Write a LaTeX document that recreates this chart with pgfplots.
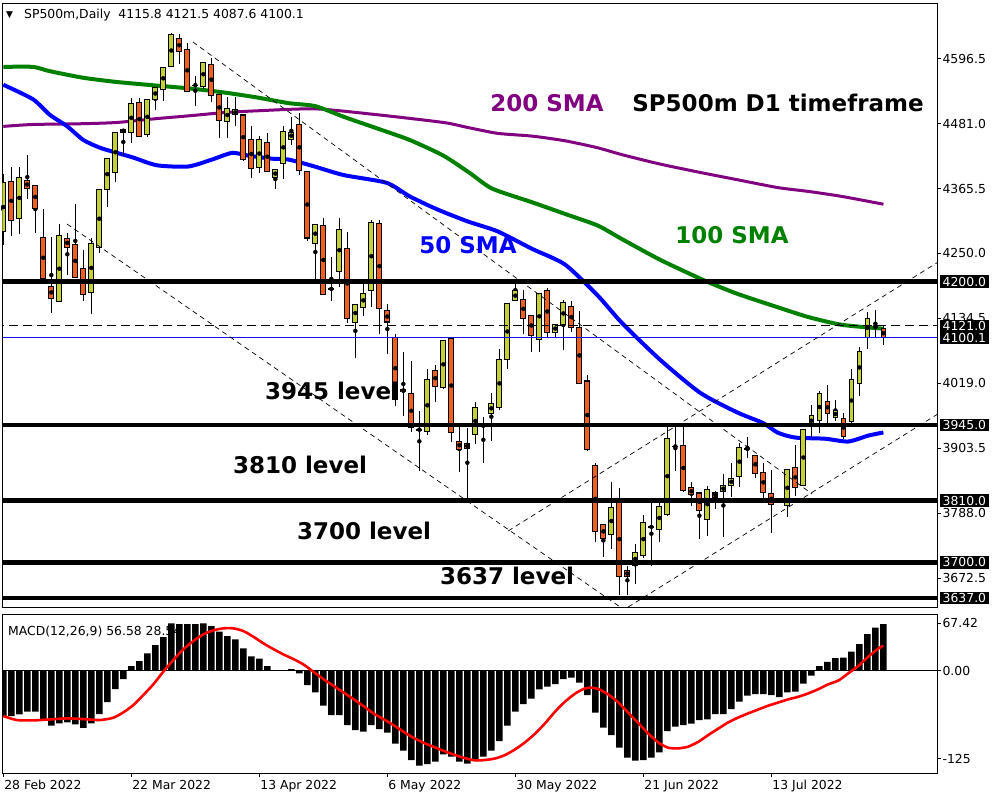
\documentclass[border=0pt]{standalone}
\usepackage{pgfplots}
\pgfplotsset{compat=1.18}
\usepackage{pgfplotstable}
\usepackage{fontspec}
\setmainfont{DejaVu Sans}
\definecolor{bull}{RGB}{196,208,56}
\definecolor{bear}{RGB}{240,96,32}
\definecolor{magreen}{RGB}{0,128,0}
\definecolor{mablue}{RGB}{0,0,255}
\definecolor{mapurple}{RGB}{128,0,128}
\definecolor{pricelinecol}{RGB}{20,20,230}
\newcommand{\smallfnt}{\fontsize{12.4}{14}\selectfont}
\newcommand{\bigfnt}{\fontsize{23}{26}\selectfont\bfseries}
\begin{document}
\pgfplotstableread{
k o h l c
0 4289.2 4391.7 4265.0 4375.7
1 4378.5 4403.4 4280.9 4308.6
2 4312.8 4403.4 4283.7 4384.7
3 4379.9 4425.6 4346.0 4365.4
4 4370.9 4372.0 4285.8 4330.1
5 4278.9 4329.4 4204.5 4205.5
6 4191.7 4279.6 4143.2 4169.5
7 4164.7 4301.7 4163.5 4280.9
8 4276.8 4285.8 4211.0 4260.9
9 4266.4 4338.4 4206.0 4206.9
10 4223.5 4255.3 4166.1 4177.1
11 4180.6 4277.5 4141.8 4267.8
12 4260.2 4364.0 4251.2 4363.3
13 4364.0 4419.0 4332.2 4418.0
14 4394.4 4466.5 4377.1 4465.7
15 4470.6 4471.0 4425.6 4465.7
16 4465.7 4526.6 4446.3 4516.9
17 4519.0 4526.6 4457.0 4458.8
18 4461.6 4525.0 4457.0 4524.5
19 4524.5 4545.0 4505.2 4544.6
20 4541.8 4582.0 4521.1 4581.3
21 4582.0 4642.9 4581.0 4640.1
22 4631.8 4640.8 4586.8 4609.0
23 4613.1 4624.9 4538.0 4538.4
24 4549.4 4566.0 4512.8 4549.4
25 4547.4 4590.5 4543.2 4590.3
26 4586.8 4598.6 4519.7 4531.5
27 4532.9 4533.0 4455.3 4486.5
28 4485.1 4528.0 4455.3 4507.2
29 4496.8 4528.0 4477.5 4505.2
30 4496.2 4497.0 4413.8 4417.3
31 4451.9 4477.5 4384.7 4402.0
32 4403.4 4458.8 4392.3 4451.9
33 4447.7 4463.6 4396.0 4396.5
34 4385.4 4399.0 4365.4 4398.6
35 4410.3 4477.5 4382.7 4467.1
36 4453.3 4493.4 4442.9 4465.7
37 4479.5 4500.3 4389.6 4397.9
38 4396.5 4397.0 4272.0 4277.5
39 4268.5 4302.0 4202.7 4301.7
40 4299.6 4312.1 4176.5 4177.1
41 4186.8 4244.3 4164.7 4186.8
42 4218.6 4313.5 4191.0 4292.7
43 4258.1 4287.8 4126.6 4134.9
44 4128.0 4160.0 4064.3 4159.8
45 4154.3 4197.9 4139.1 4178.5
46 4184.7 4309.3 4154.3 4305.2
47 4302.4 4309.3 4107.2 4152.2
48 4147.4 4159.8 4071.2 4128.0
49 4101.0 4107.2 3977.8 3990.3
50 4007.6 4074.7 3960.5 4004.1
51 4000.0 4058.8 3932.9 3939.8
52 3936.3 3968.8 3862.2 3936.3
53 3932.9 4044.9 3927.3 4026.3
54 4042.2 4050.5 3984.7 4013.8
55 4011.0 4095.0 4009.0 4094.1
56 4098.9 4099.5 3914.4 3930.8
57 3915.5 3943.2 3860.2 3901.7
58 3911.4 3939.8 3815.2 3903.1
59 3927.3 3984.7 3910.2 3976.4
60 3943.2 3959.1 3877.5 3943.2
61 3965.3 4002.0 3916.9 3983.3
62 3976.4 4079.5 3970.9 4060.9
63 4060.9 4161.5 4044.9 4161.2
64 4166.1 4204.1 4165.5 4183.4
65 4168.1 4185.4 4107.2 4134.9
66 4139.1 4139.5 4074.7 4104.4
67 4097.5 4179.0 4074.7 4178.5
68 4184.0 4188.9 4100.3 4109.3
69 4109.3 4124.0 4100.3 4123.1
70 4123.1 4166.8 4078.2 4163.3
71 4155.7 4164.7 4109.3 4117.6
72 4117.6 4147.4 4018.5 4019.3
73 4022.8 4033.2 3899.0 3901.7
74 3872.0 3876.1 3737.0 3754.4
75 3768.1 3768.5 3710.0 3742.5
76 3749.4 3842.9 3723.2 3797.9
77 3808.2 3832.5 3642.2 3674.7
78 3685.1 3694.1 3642.2 3675.4
79 3694.1 3732.1 3660.8 3718.3
80 3712.8 3784.0 3707.9 3770.2
81 3763.3 3808.2 3694.1 3763.3
82 3758.4 3808.2 3735.6 3799.9
83 3786.1 3943.2 3782.6 3921.0
84 3906.5 3943.2 3863.6 3906.5
85 3908.6 3943.2 3825.5 3827.7
86 3832.5 3842.9 3801.3 3820.7
87 3823.5 3824.0 3742.5 3792.3
88 3777.1 3835.9 3747.4 3830.4
89 3823.5 3827.7 3794.4 3816.5
90 3825.5 3858.1 3744.6 3837.3
91 3837.3 3876.1 3816.5 3849.8
92 3853.8 3913.1 3833.7 3904.9
93 3901.9 3922.7 3885.3 3901.9
94 3890.7 3891.5 3849.7 3858.6
95 3860.4 3877.5 3805.2 3824.8
96 3823.0 3864.5 3751.8 3803.5
97 3811.5 3813.0 3807.0 3809.5
98 3801.0 3865.0 3781.4 3864.5
99 3869.3 3909.0 3818.2 3833.7
100 3836.6 3937.5 3836.0 3936.9
101 3942.8 3980.2 3923.8 3961.8
102 3952.2 4005.0 3929.8 4001.0
103 3986.8 4015.9 3941.6 3965.4
104 3958.3 3989.6 3951.5 3970.1
105 3955.7 3966.0 3920.4 3924.5
106 3950.1 4044.9 3941.1 4026.3
107 4019.3 4083.0 3996.5 4074.7
108 4100.3 4146.0 4080.3 4134.9
109 4118.5 4149.5 4100.3 4120.5
110 4115.8 4121.5 4087.6 4100.1
}\candles
\pgfplotstableread{
k m
0 -64.5
1 -64.5
2 -62.1
3 -58.3
4 -58.3
5 -69.3
6 -78.3
7 -75.0
8 -73.6
9 -76.4
10 -81.2
11 -75.0
12 -61.7
13 -44.6
14 -26.1
15 -11.9
16 6.6
17 13.8
18 24.7
19 36.5
20 47.9
21 67.4
22 66.4
23 66.4
24 66.4
25 67.4
26 63.5
27 55.5
28 49.3
29 44.6
30 31.8
31 20.4
32 17.1
33 6.6
34 0.5
35 0.2
36 2.4
37 -3.8
38 -20.4
39 -30.8
40 -49.8
41 -63.1
42 -63.1
43 -77.3
44 -84.4
45 -86.8
46 -77.3
47 -83.0
48 -88.2
49 -103.8
50 -113.8
51 -127.1
52 -135.2
53 -132.8
54 -129.5
55 -119.1
56 -122.4
57 -129.5
58 -132.4
59 -127.1
60 -122.4
61 -113.9
62 -100.1
63 -78.3
64 -58.3
65 -47.4
66 -39.8
67 -26.6
68 -22.8
69 -19.0
70 -11.9
71 -10.0
72 -17.1
73 -34.6
74 -59.8
75 -81.1
76 -91.6
77 -109.6
78 -123.8
79 -128.1
80 -127.1
81 -123.8
82 -116.2
83 -85.9
84 -79.7
85 -77.3
86 -75.4
87 -70.2
88 -69.3
89 -61.7
90 -61.7
91 -54.6
92 -44.1
93 -35.6
94 -33.2
95 -33.2
96 -34.6
97 -37.5
98 -30.8
99 -29.9
100 -18.5
101 -7.1
102 6.6
103 12.5
104 17.8
105 18.5
106 27.0
107 38.0
108 52.2
109 61.2
110 66.4
}\macd
\begin{tikzpicture}
\useasboundingbox (0pt,0pt) rectangle (1000pt,-800pt);
\fill[white] (0pt,0pt) rectangle (1000pt,-800pt);
\node[anchor=base west, font=\smallfnt, inner sep=0pt] at (8pt,-635pt) {MACD(12,26,9) 56.58 28.54};

% ---------------- main price panel ----------------
\begin{axis}[
  at={(2.3pt,-3pt)}, anchor=north west, scale only axis,
  width=934.7pt, height=604pt,
  xmin=-0.125, xmax=116.7, ymin=3620.7, ymax=4695.6,
  xtick=\empty,
  ytick={3672.5,3788,3903.5,4019,4134.5,4250,4365.5,4481,4596.5},
  yticklabels={3672.5,3788.0,3903.5,4019.0,4134.5,4250.0,4365.5,4481.0,4596.5},
  ytick pos=right, yticklabel pos=right,
  tick align=outside, major tick length=4pt,
  tick style={black, line width=0.8pt},
  yticklabel style={font=\smallfnt, anchor=west, xshift=-2pt},
  axis line style={line width=0.8pt},
  clip mode=individual,
]
% moving averages
\addplot[mapurple, line width=3pt, smooth, tension=0.4] coordinates {
(0,4476.0) (3.7,4479.4) (10,4480.8) (14.2,4483.0) (19.2,4489.9) (23.1,4494.7) (27.3,4500.2) (31.5,4503.6) (39.0,4507.2) (46.7,4496.8) (55.0,4483.0) (58.0,4474.2) (61.8,4463.6) (66.1,4458.7) (70.2,4450.4) (74.3,4437.9) (77.3,4425.8) (82.1,4408.9) (87.5,4392.9) (91.7,4381.2) (96.8,4367.1) (100.6,4360.3) (104.8,4351.4) (110,4337.5)};
\addplot[magreen, line width=4pt, smooth, tension=0.4] coordinates {
(0,4581.9) (3.7,4581.9) (5.8,4574.3) (10.0,4562.5) (14.2,4555.0) (19.2,4548.6) (23.1,4543.8) (27.3,4536.9) (31.5,4528.0) (35.6,4517.5) (39.0,4512.0) (42.5,4493.3) (46.7,4472.5) (50.8,4451.8) (55.0,4424.0) (58.3,4393.1) (61.1,4365.3) (66.1,4340.9) (70.2,4320.3) (74.3,4299.5) (77.3,4275.6) (82.1,4238.6) (87.5,4202.6) (91.7,4178.3) (96.8,4154.1) (100.6,4136.8) (104.8,4122.9) (110,4116.0)};
\addplot[mablue, line width=4pt, smooth, tension=0.4] coordinates {
(0,4550.1) (3.7,4524.4) (5.8,4496.8) (8.0,4476.0) (10.0,4451.8) (12.1,4437.9) (14.2,4428.9) (16.2,4420.7) (19.2,4406.8) (23.1,4404.6) (26.1,4417.1) (28.6,4428.9) (30.6,4424.0) (33.6,4418.5) (35.6,4417.1) (38.6,4405.9) (42.5,4389.5) (47.9,4375.6) (50.8,4351.4) (54.2,4328.5) (58.0,4307.1) (61.8,4289.1) (66.1,4258.0) (70.2,4230.2) (74.3,4174.9) (77.3,4126.5) (82.1,4060.6) (87.1,4001.9) (91.7,3967.2) (95.0,3947.8) (96.8,3930.9) (99.0,3922.2) (102.7,3920.2) (105.6,3915.2) (108.1,3925.7) (110,3931.3)};
% candle wicks
\addplot[only marks, mark=none, error bars/.cd, y dir=both, y explicit, error mark=none,
  error bar style={black, line width=1pt}]
  table[x=k, y expr={(\thisrow{h}+\thisrow{l})/2}, y error expr={(\thisrow{h}-\thisrow{l})/2}] {\candles};
% candle bodies: outline
\addplot[only marks, mark=none, error bars/.cd, y dir=both, y explicit, error mark=none,
  error bar style={black, line width=5.8pt}]
  table[x=k, y expr={(\thisrow{o}+\thisrow{c})/2}, y error expr={abs(\thisrow{c}-\thisrow{o})/2+1.0}] {\candles};
% bullish fill
\addplot[only marks, mark=none, x filter/.expression={\thisrow{c}>\thisrow{o} ? x : nan},
  error bars/.cd, y dir=both, y explicit, error mark=none,
  error bar style={bull, line width=3.8pt}]
  table[x=k, y expr={(\thisrow{o}+\thisrow{c})/2}, y error expr={max(abs(\thisrow{c}-\thisrow{o})/2-0.8,0)}] {\candles};
% bearish fill
\addplot[only marks, mark=none, x filter/.expression={\thisrow{c}<\thisrow{o} ? x : nan},
  error bars/.cd, y dir=both, y explicit, error mark=none,
  error bar style={bear, line width=3.8pt}]
  table[x=k, y expr={(\thisrow{o}+\thisrow{c})/2}, y error expr={max(abs(\thisrow{c}-\thisrow{o})/2-0.8,0)}] {\candles};
% price lines
\addplot[pricelinecol, line width=0.8pt] coordinates {(-1,4100.1) (118,4100.1)};
\addplot[black, line width=0.8pt, dash pattern=on 9pt off 5pt] coordinates {(-1,4121) (118,4121)};
% horizontal levels
\addplot[black, line width=4.3pt] coordinates {(-1,4200) (118,4200)};
\addplot[black, line width=4.3pt] coordinates {(-1,3945) (118,3945)};
\addplot[black, line width=4.3pt] coordinates {(-1,3810) (118,3810)};
\addplot[black, line width=4.3pt] coordinates {(-1,3700) (118,3700)};
\addplot[black, line width=4.3pt] coordinates {(-1,3637) (118,3637)};
% channel lines
\addplot[black, line width=0.7pt, dash pattern=on 5pt off 4pt] coordinates {(7.96,4302.3) (77.1,3620.7)};
\addplot[black, line width=0.7pt, dash pattern=on 5pt off 4pt] coordinates {(23.7,4626.2) (101.1,3821.8)};
\addplot[black, line width=0.7pt, dash pattern=on 5pt off 4pt] coordinates {(63.1,3756.0) (116.7,4233.4)};
\addplot[black, line width=0.7pt, dash pattern=on 5pt off 4pt] coordinates {(78.1,3620.7) (116.8,3964.2)};
\coordinate (L4200) at (axis cs:116.7,4200);
\coordinate (L4121) at (axis cs:116.7,4121);
\coordinate (L4100) at (axis cs:116.7,4100.1);
\coordinate (L3945) at (axis cs:116.7,3945);
\coordinate (L3810) at (axis cs:116.7,3810);
\coordinate (L3700) at (axis cs:116.7,3700);
\coordinate (L3637) at (axis cs:116.7,3637);
\end{axis}

% ---------------- MACD panel ----------------
\begin{axis}[
  at={(2.3pt,-614pt)}, anchor=north west, scale only axis,
  width=934.7pt, height=159pt,
  xmin=-0.125, xmax=116.7, ymin=-145.6, ymax=80.7,
  xtick={0,16,32,48,64,80,96},
  xticklabels={28 Feb 2022,22 Mar 2022,13 Apr 2022,6 May 2022,30 May 2022,21 Jun 2022,13 Jul 2022},
  xtick pos=bottom,
  xticklabel style={font=\smallfnt, anchor=north west, xshift=-2.5pt, yshift=0pt},
  ytick={-125,0,67.42},
  yticklabels={-125,0.00,67.42},
  ytick pos=right, yticklabel pos=right,
  tick align=outside, major tick length=4pt,
  tick style={black, line width=0.8pt},
  yticklabel style={font=\smallfnt, anchor=west, xshift=-2pt},
  axis line style={line width=0.8pt},
  clip mode=individual,
]
\addplot[ybar, bar width=6.6pt, fill=black, draw=none] table[x=k, y=m] {\macd};
\addplot[black, line width=1.3pt] coordinates {(-1,0) (118,0)};
\addplot[red, line width=2.6pt, smooth, tension=0.4] coordinates {
(0,-64.5) (1.67,-70.2) (3.75,-70.7) (5.84,-69.3) (7.92,-67.9) (10.0,-68.8) (12.09,-70.2) (13.75,-66.9) (15.0,-59.3) (16.25,-48.9) (17.5,-34.6) (18.75,-19.4) (20.0,-1.4) (21.25,15.2) (22.5,30.4) (23.75,42.2) (25.0,51.7) (26.25,57.4) (27.5,60.3) (28.75,60.3) (30.0,56.5) (31.25,48.4) (32.5,39.0) (33.75,30.8) (35.0,23.2) (36.25,16.6) (37.5,9.0) (38.75,-1.4) (40.0,-11.9) (41.25,-21.3) (42.5,-30.8) (43.75,-40.3) (45.0,-50.2) (46.25,-60.7) (47.5,-68.8) (48.75,-77.3) (50.0,-86.8) (51.25,-95.4) (52.5,-102.5) (53.75,-108.2) (55.0,-113.9) (56.25,-119.1) (57.5,-123.8) (58.96,-127.6) (60.2,-127.1) (61.5,-124.8) (62.7,-120.1) (63.96,-112.0) (65.2,-102.0) (66.5,-89.2) (67.7,-75.0) (68.96,-58.3) (70.2,-44.1) (71.5,-32.3) (72.7,-25.1) (73.55,-24.2) (74.4,-26.1) (75.6,-33.7) (76.9,-45.5) (78.1,-59.8) (79.4,-74.9) (80.6,-89.2) (81.9,-102.5) (83.1,-109.6) (84.4,-110.5) (85.6,-108.1) (86.9,-101.0) (88.1,-91.6) (89.4,-82.1) (90.6,-73.6) (91.9,-66.4) (93.1,-60.7) (94.4,-55.0) (95.6,-49.8) (96.9,-45.1) (98.1,-40.8) (99.4,-37.0) (100.6,-32.3) (101.9,-26.1) (103.1,-19.4) (104.4,-13.8) (105.6,-3.8) (106.9,7.1) (108.1,19.9) (109.4,31.8) (110,35.6)};
\coordinate (Lzero) at (axis cs:116.7,0);
\end{axis}

% right-hand boxed price labels
\tikzset{boxlab/.style={anchor=west, fill=black, text=white, font=\smallfnt, inner xsep=2.5pt, inner ysep=1.5pt, xshift=3pt}}
\node[boxlab] at (L4200) {4200.0};
\node[boxlab] at (L4100) {4100.1};
\node[boxlab] at (L4121) {4121.0};
\node[boxlab] at (L3945) {3945.0};
\node[boxlab] at (L3810) {3810.0};
\node[boxlab] at (L3700) {3700.0};
\node[boxlab] at (L3637) {3637.0};

% annotations
\node[font=\bigfnt, text=mapurple] at (547pt,-103pt) {200 SMA};
\node[font=\bigfnt, text=black] at (778pt,-103pt) {SP500m D1 timeframe};
\node[font=\bigfnt, text=mablue] at (468pt,-245pt) {50 SMA};
\node[font=\bigfnt, text=magreen] at (732pt,-235pt) {100 SMA};
\node[font=\bigfnt, text=black] at (332pt,-391pt) {3945 level};
\node[font=\bigfnt, text=black] at (300pt,-465pt) {3810 level};
\node[font=\bigfnt, text=black] at (364pt,-531pt) {3700 level};
\node[font=\bigfnt, text=black] at (507pt,-576pt) {3637 level};

% header
\node[anchor=base west, font=\fontsize{9}{10}\selectfont, inner sep=0pt] at (6pt,-18pt) {▼};
\node[anchor=base west, font=\smallfnt, inner sep=0pt] at (24pt,-19pt) {SP500m,Daily\ \ 4115.8 4121.5 4087.6 4100.1};
\end{tikzpicture}
\end{document}
